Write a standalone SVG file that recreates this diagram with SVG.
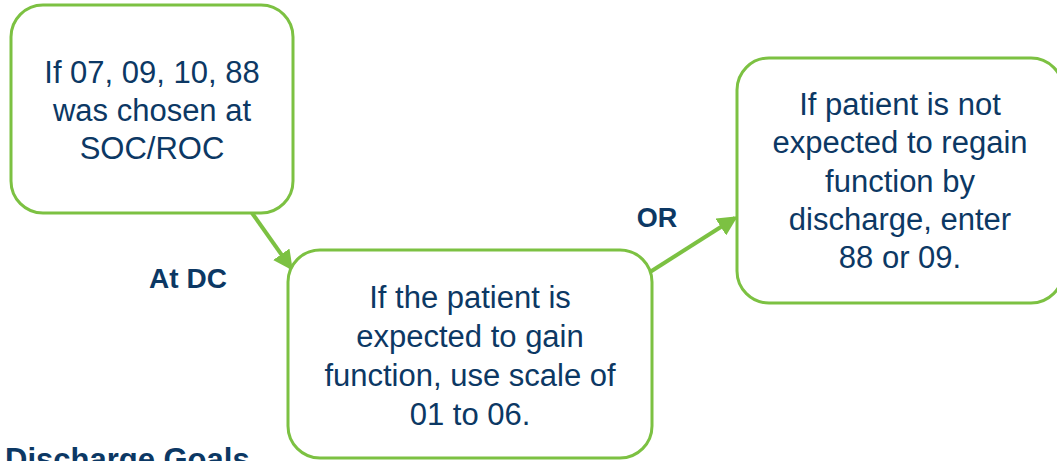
<svg xmlns="http://www.w3.org/2000/svg" width="1057" height="461" viewBox="0 0 1057 461">
  <style>
    .box { fill: #ffffff; stroke: #7cc142; stroke-width: 3; }
    .t { font-family: "Liberation Sans", Arial, sans-serif; font-size: 31px; fill: #0c3864; text-anchor: middle; }
    .lbl { font-family: "Liberation Sans", Arial, sans-serif; font-weight: bold; fill: #0c3864; text-anchor: middle; }
    .conn { stroke: #7cc142; stroke-width: 4; fill: none; }
  </style>
  <defs>
    <marker id="ah" markerWidth="5" markerHeight="5" refX="4.2" refY="2.5" orient="auto" markerUnits="strokeWidth">
      <path d="M0,0 L5,2.5 L0,5 Z" fill="#7cc142"/>
    </marker>
  </defs>
  <rect width="1057" height="461" fill="#ffffff"/>

  <g id="connectors">
    <line class="conn" x1="252" y1="213" x2="291" y2="268" marker-end="url(#ah)"/>
    <line class="conn" x1="650" y1="272" x2="735" y2="218" marker-end="url(#ah)"/>
  </g>

  <g id="node-soc">
    <rect class="box" x="11" y="5" width="282" height="208" rx="32"/>
    <text class="t" x="152" y="83">If 07, 09, 10, 88</text>
    <text class="t" x="152" y="121">was chosen at</text>
    <text class="t" x="152" y="159">SOC/ROC</text>
  </g>

  <g id="node-gain">
    <rect class="box" x="288" y="250" width="364" height="208" rx="32"/>
    <text class="t" x="470" y="308">If the patient is</text>
    <text class="t" x="470" y="347">expected to gain</text>
    <text class="t" x="470" y="386">function, use scale of</text>
    <text class="t" x="470" y="425">01 to 06.</text>
  </g>

  <g id="node-notgain">
    <rect class="box" x="737" y="58" width="326" height="245" rx="32"/>
    <text class="t" x="900" y="115">If patient is not</text>
    <text class="t" x="900" y="153">expected to regain</text>
    <text class="t" x="900" y="192">function by</text>
    <text class="t" x="900" y="230">discharge, enter</text>
    <text class="t" x="900" y="268">88 or 09.</text>
  </g>

  <g id="labels">
    <text class="lbl" x="188" y="288" font-size="28">At DC</text>
    <text class="lbl" x="657" y="227" font-size="27">OR</text>
    <text class="lbl" x="5" y="470" font-size="31" style="text-anchor:start">Discharge Goals</text>
  </g>
</svg>
